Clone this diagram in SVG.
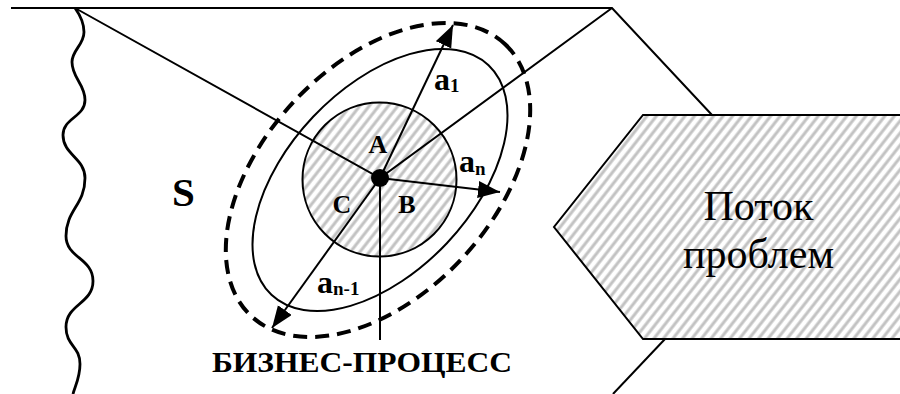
<svg xmlns="http://www.w3.org/2000/svg" width="900" height="394" viewBox="0 0 900 394">
  <defs>
    <pattern id="hatch" patternUnits="userSpaceOnUse" width="7.5" height="7.5" patternTransform="rotate(38)">
      <rect width="7.5" height="7.5" fill="#ffffff"/>
      <rect x="1.8" y="0" width="3.8" height="7.5" fill="#e0e0e0"/>
      <rect x="2.6" y="0" width="2.2" height="7.5" fill="#c2c2c2"/>
    </pattern>
    <marker id="arrow" markerUnits="userSpaceOnUse" markerWidth="23" markerHeight="18" refX="22" refY="8.5" orient="auto">
      <path d="M0,0 L22,8.5 L0,17 z" fill="#000"/>
    </marker>
  </defs>
  <style>
    .ln { stroke: #000; stroke-width: 2; fill: none; }
    .thick { stroke: #000; stroke-width: 2.8; fill: none; }
    .dash { stroke: #000; stroke-width: 4; fill: none; stroke-dasharray: 14 8; }
    .bold { font-family: "Liberation Serif", "Times New Roman", serif; font-weight: bold; fill: #000; }
    .reg { font-family: "Liberation Serif", "Times New Roman", serif; fill: #000; }
  </style>
  <rect width="900" height="394" fill="#ffffff"/>

  <g id="frame">
    <path class="ln" d="M11,8 L612,8 L712,115"/>
    <path class="ln" d="M665,339 L613,394"/>
    <path class="thick" d="M75,8 C80,15 84,22 84,32 C84,45 72,50 72,62 C72,78 85,84 85,100 C85,117 63,118 63,135 C63,155 85,158 85,178 C85,205 66,210 66,236 C66,258 93,258 93,281 C93,304 66,304 66,327 C66,346 80,346 80,364 C80,378 75,386 73,394"/>
  </g>

  <g id="problem-flow">
    <path d="M643,115 L902,115 L902,339 L643,339 L554,227 Z" fill="url(#hatch)" stroke="#000" stroke-width="2"/>
    <text class="reg" x="758.5" y="220" font-size="42" text-anchor="middle">Поток</text>
    <text class="reg" x="758.5" y="268" font-size="42" text-anchor="middle">проблем</text>
  </g>

  <g id="environment">
    <ellipse class="dash" cx="378" cy="180" rx="186" ry="115" transform="rotate(-47 378 180)"/>
    <ellipse class="ln" cx="380" cy="180" rx="158" ry="92" transform="rotate(-46.6 380 180)"/>
  </g>

  <g id="process-core">
    <circle cx="379.5" cy="179.5" r="77" fill="url(#hatch)" stroke="#000" stroke-width="2"/>
  </g>

  <g id="connectors">
    <path class="ln" d="M75,8 L380,178 L612,8"/>
    <path class="ln" d="M380,178 L380,340"/>
    <path class="ln" d="M380,178 L453,25" marker-end="url(#arrow)"/>
    <path class="ln" d="M380,178 L500,192" marker-end="url(#arrow)"/>
    <path class="ln" d="M380,178 L272,328" marker-end="url(#arrow)"/>
    <circle cx="380" cy="178" r="9" fill="#000"/>
  </g>

  <g id="labels">
    <text class="bold" x="172" y="206" font-size="41">S</text>
    <text class="bold" x="378" y="153" font-size="26" text-anchor="middle">A</text>
    <text class="bold" x="342" y="213" font-size="26" text-anchor="middle">C</text>
    <text class="bold" x="407" y="213" font-size="26" text-anchor="middle">B</text>
    <text class="bold" x="434" y="90" font-size="32">a<tspan font-size="19" dy="2">1</tspan></text>
    <text class="bold" x="459" y="172" font-size="32">a<tspan font-size="19" dy="3">n</tspan></text>
    <text class="bold" x="317" y="293" font-size="32">a<tspan font-size="19" dy="2">n-1</tspan></text>
    <text class="bold" x="212" y="372" font-size="30" textLength="300" lengthAdjust="spacingAndGlyphs">БИЗНЕС-ПРОЦЕСС</text>
  </g>
</svg>
